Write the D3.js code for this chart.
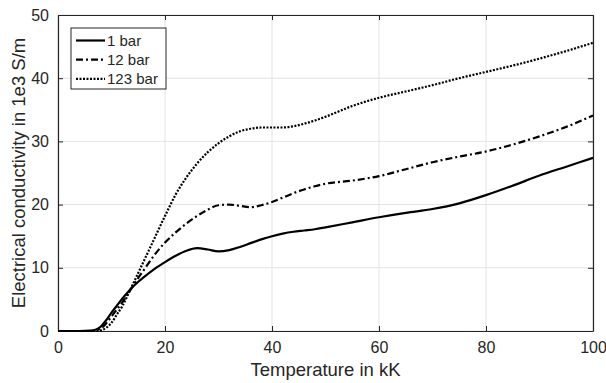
<!DOCTYPE html>
<html>
<head>
<meta charset="utf-8">
<script src="https://cdn.jsdelivr.net/npm/d3@7"></script>
<style>
  body { margin: 0; background: #fff; }
  text { font-family: "Liberation Sans", Arial, sans-serif; fill: #262626; }
</style>
</head>
<body>
<div id="chart"></div>
<script>
// temperature in kK
var temps = [0, 2, 4, 6, 7, 8, 9, 10, 11, 12, 13, 14, 15, 16, 18, 20, 22, 24, 26, 28, 30,
             32, 34, 36, 38, 40, 42, 44, 46, 48, 50, 55, 60, 65, 70, 75, 80, 85, 90, 95, 100];

// conductivity in 1e3 S/m
var bar1 = [0, 0, 0, 0.05, 0.2, 0.7, 1.7, 2.9, 4.0, 5.1, 6.1, 7.0, 7.8, 8.5, 9.8, 10.9, 11.9, 12.7, 13.1, 12.9, 12.6,
            12.8, 13.3, 13.9, 14.5, 15.0, 15.4, 15.7, 15.9, 16.1, 16.4, 17.2, 18.0, 18.7, 19.3, 20.2, 21.5, 23.0, 24.6, 26.0, 27.4];
var bar12 = [0, 0, 0, 0, 0.1, 0.4, 1.2, 2.3, 3.4, 4.5, 5.8, 7.1, 8.4, 9.6, 12.0, 14.0, 15.6, 17.0, 18.2, 19.2, 19.9,
             20.0, 19.8, 19.6, 19.9, 20.4, 21.1, 21.8, 22.4, 22.9, 23.3, 23.8, 24.5, 25.6, 26.7, 27.6, 28.4, 29.5, 30.8, 32.3, 34.1];
var bar123 = [0, 0, 0, 0, 0, 0.1, 0.5, 1.3, 2.6, 3.9, 5.6, 7.4, 9.2, 11.0, 14.6, 18.2, 21.6, 24.3, 26.5, 28.3, 29.7,
              30.8, 31.6, 32.0, 32.2, 32.2, 32.2, 32.4, 32.8, 33.3, 33.9, 35.6, 36.9, 37.9, 38.9, 40.0, 41.0, 42.0, 43.1, 44.3, 45.6];

var seriesNames = ["1 bar", "12 bar", "123 bar"];
var seriesValues = [bar1, bar12, bar123];
var seriesDash = [null, "7,3,2,3", "2,1.5"];

var xTicks = [0, 20, 40, 60, 80, 100];
var yTicks = [0, 10, 20, 30, 40, 50];

var margin = {top: 15, right: 13, bottom: 52, left: 58},
    width = 606 - margin.left - margin.right,
    height = 383 - margin.top - margin.bottom;

var svg = d3.select("#chart")
  .append("svg")
    .attr("width", 606)
    .attr("height", 383)
  .append("g")
    .attr("transform", "translate(" + margin.left + "," + margin.top + ")");

var x = d3.scaleLinear().domain([0, 100]).range([0, width]);
var y = d3.scaleLinear().domain([0, 50]).range([height, 0]);

// grid
svg.append("g").selectAll("line.gx")
  .data(xTicks).enter().append("line")
    .attr("x1", function(d){ return x(d); }).attr("x2", function(d){ return x(d); })
    .attr("y1", 0).attr("y2", height)
    .attr("stroke", "#e3e3e3").attr("stroke-width", 1);
svg.append("g").selectAll("line.gy")
  .data(yTicks).enter().append("line")
    .attr("y1", function(d){ return y(d); }).attr("y2", function(d){ return y(d); })
    .attr("x1", 0).attr("x2", width)
    .attr("stroke", "#e3e3e3").attr("stroke-width", 1);

// axes, ticks pointing inward
function styleAxis(g) {
  g.select(".domain").attr("stroke", "#262626").attr("stroke-width", 1.2);
  g.selectAll(".tick line").attr("stroke", "#262626");
  g.selectAll(".tick text").style("font-size", "16px").attr("fill", "#262626");
}

svg.append("g")
  .attr("transform", "translate(0," + height + ")")
  .call(d3.axisBottom(x).tickValues(xTicks).tickSizeInner(-5).tickSizeOuter(0).tickPadding(11))
  .call(styleAxis);
svg.append("g")
  .call(d3.axisLeft(y).tickValues(yTicks).tickSizeInner(-5).tickSizeOuter(0).tickPadding(9))
  .call(styleAxis);
svg.append("g")
  .call(d3.axisTop(x).tickValues(xTicks).tickSizeInner(-5).tickSizeOuter(0).tickFormat(""))
  .call(styleAxis);
svg.append("g")
  .attr("transform", "translate(" + width + ",0)")
  .call(d3.axisRight(y).tickValues(yTicks).tickSizeInner(-5).tickSizeOuter(0).tickFormat(""))
  .call(styleAxis);

// lines
var line = d3.line()
  .x(function(d){ return x(d[0]); })
  .y(function(d){ return y(d[1]); })
  .curve(d3.curveMonotoneX);

seriesValues.forEach(function(vals, i){
  svg.append("path")
    .datum(temps.map(function(t, j){ return [t, vals[j]]; }))
    .attr("fill", "none")
    .attr("stroke", "#000")
    .attr("stroke-width", 2.2)
    .attr("stroke-dasharray", seriesDash[i])
    .attr("d", line);
});

// axis labels
svg.append("text")
  .attr("x", width / 2)
  .attr("y", height + 45)
  .attr("text-anchor", "middle")
  .style("font-size", "18.5px")
  .text("Temperature in kK");

svg.append("text")
  .attr("transform", "translate(" + (-33) + "," + (height / 2) + ")rotate(-90)")
  .attr("text-anchor", "middle")
  .style("font-size", "18.5px")
  .text("Electrical conductivity in 1e3 S/m");

// legend
var legend = svg.append("g").attr("transform", "translate(13,13)");
legend.append("rect")
  .attr("width", 95).attr("height", 61)
  .attr("fill", "#fff").attr("stroke", "#262626").attr("stroke-width", 1);

seriesNames.forEach(function(name, i){
  var ly = 12.5 + i * 19.2;
  legend.append("line")
    .attr("x1", 5).attr("x2", 34)
    .attr("y1", ly).attr("y2", ly)
    .attr("stroke", "#000").attr("stroke-width", 2.2)
    .attr("stroke-dasharray", seriesDash[i]);
  legend.append("text")
    .attr("x", 36).attr("y", ly + 5.5)
    .style("font-size", "15px")
    .text(name);
});
</script>
</body>
</html>
